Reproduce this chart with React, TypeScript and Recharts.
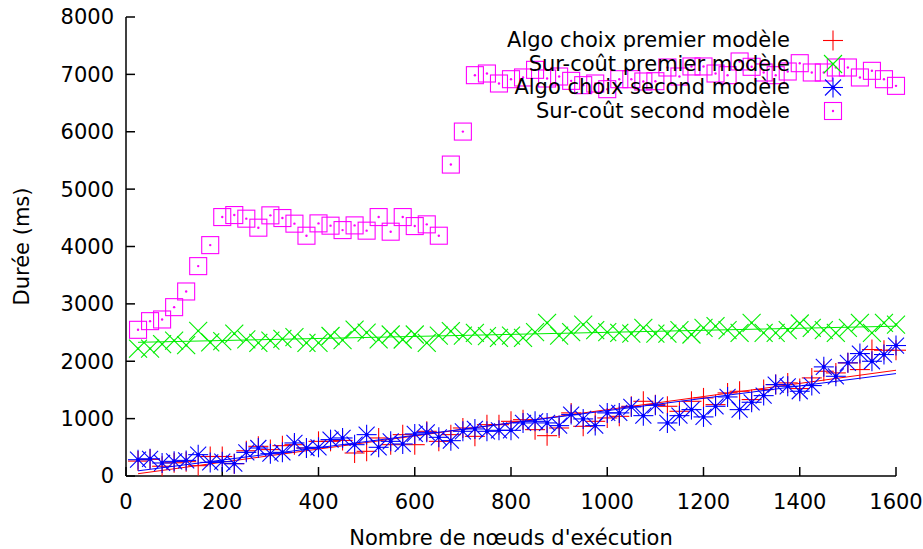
import { Scatter, ScatterChart, XAxis, YAxis } from 'recharts';

const NODES = [
  25, 50, 75, 100, 125, 150, 175, 200, 225, 250, 275, 300, 325, 350, 375, 400,
  425, 450, 475, 500, 525, 550, 575, 600, 625, 650, 675, 700, 725, 750, 775, 800,
  825, 850, 875, 900, 925, 950, 975, 1000, 1025, 1050, 1075, 1100, 1125, 1150, 1175, 1200,
  1225, 1250, 1275, 1300, 1325, 1350, 1375, 1400, 1425, 1450, 1475, 1500, 1525, 1550, 1575, 1600,
];

// Algo choix premier modèle
const ALGO_1 = [
  260, 290, 170, 230, 250, 180, 340, 340, 215, 440, 517, 460, 529, 546, 488, 604,
  604, 620, 401, 430, 663, 546, 721, 546, 779, 604, 721, 837, 691, 895, 895, 953,
  982, 808, 703, 837, 1100, 866, 953, 1012, 1040, 1215, 1302, 1244, 1215, 1128, 1302, 1361,
  1244, 1448, 1477, 1332, 1506, 1593, 1623, 1524, 1710, 1826, 1797, 1972, 1855, 2204, 2192, 2192,
];

// Sur-coût premier modèle
const SURCOUT_1 = [
  2220, 2220, 2300, 2360, 2280, 2530, 2330, 2350, 2480, 2380, 2320, 2360, 2390, 2420, 2320, 2320,
  2440, 2370, 2550, 2500, 2380, 2466, 2379, 2466, 2321, 2448, 2524, 2448, 2495, 2437, 2408, 2448,
  2408, 2506, 2670, 2448, 2506, 2640, 2541, 2506, 2495, 2483, 2582, 2483, 2483, 2541, 2466, 2582,
  2611, 2541, 2495, 2670, 2495, 2495, 2541, 2658, 2582, 2541, 2495, 2582, 2670, 2495, 2670, 2640,
];

// Algo choix second modèle
const ALGO_2 = [
  284, 300, 227, 255, 272, 372, 237, 250, 215, 412, 488, 389, 412, 576, 488, 500,
  634, 663, 546, 721, 500, 604, 558, 733, 761, 674, 616, 779, 820, 779, 796, 796,
  925, 953, 925, 878, 1070, 995, 878, 1100, 1100, 1204, 1052, 1232, 925, 1052, 1157, 1030,
  1215, 1378, 1157, 1285, 1401, 1593, 1564, 1477, 1576, 1902, 1738, 1972, 2134, 2000, 2117, 2274,
];

// Sur-coût second modèle
const SURCOUT_2 = [
  2548, 2699, 2728, 2943, 3216, 3658, 4024, 4513, 4548, 4485, 4328, 4543, 4496, 4398, 4188, 4403,
  4363, 4286, 4368, 4276, 4513, 4258, 4513, 4356, 4386, 4188, 5428, 6003, 6986, 7015, 6841, 6916,
  6946, 7079, 6928, 6963, 6887, 6812, 6841, 6742, 6916, 6916, 6876, 6881, 7120, 6963, 7138, 7138,
  7015, 6986, 7225, 7132, 7033, 6986, 7050, 7195, 7033, 7033, 7120, 7120, 6946, 7062, 6916, 6800,
];

// linear fits (end points)
const FIT_ALGO_1 = [[25, 40], [1600, 1843]];
const FIT_SURCOUT_1 = [[25, 2330], [1600, 2611]];
const FIT_ALGO_2 = [[25, 90], [1600, 1785]];

const X_TICKS = [0, 200, 400, 600, 800, 1000, 1200, 1400, 1600];
const Y_TICKS = [0, 1000, 2000, 3000, 4000, 5000, 6000, 7000, 8000];

const LEGEND = [
  'Algo choix premier modèle',
  'Sur-coût premier modèle',
  'Algo choix second modèle',
  'Sur-coût second modèle',
];

const RED = '#ff0000';
const GREEN = '#00ee00';
const BLUE = '#0000ff';
const MAGENTA = '#ff00ff';
const FONT = '"DejaVu Sans", sans-serif';
const FS = 21;

const toPoints = (ys: number[]) => NODES.map((x, i) => ({ x, y: ys[i] }));
const fitPoints = (f: number[][]) => f.map(([x, y]) => ({ x, y }));

function Plus({ cx, cy, color = RED }: any) {
  return (
    <g stroke={color} strokeWidth={1.1}>
      <line x1={cx - 10} y1={cy} x2={cx + 10} y2={cy} />
      <line x1={cx} y1={cy - 10} x2={cx} y2={cy + 10} />
    </g>
  );
}

function Cross({ cx, cy, color = GREEN }: any) {
  return (
    <g stroke={color} strokeWidth={1.1}>
      <line x1={cx - 9} y1={cy - 9} x2={cx + 9} y2={cy + 9} />
      <line x1={cx - 9} y1={cy + 9} x2={cx + 9} y2={cy - 9} />
      <circle cx={cx} cy={cy} r={1.2} fill={color} stroke="none" />
    </g>
  );
}

function Star({ cx, cy, color = BLUE }: any) {
  return (
    <g stroke={color} strokeWidth={1.1}>
      <line x1={cx - 10} y1={cy} x2={cx + 10} y2={cy} />
      <line x1={cx} y1={cy - 10} x2={cx} y2={cy + 10} />
      <line x1={cx - 8} y1={cy - 8} x2={cx + 8} y2={cy + 8} />
      <line x1={cx - 8} y1={cy + 8} x2={cx + 8} y2={cy - 8} />
      <circle cx={cx} cy={cy} r={2} fill={color} stroke="none" />
    </g>
  );
}

function Square({ cx, cy, color = MAGENTA }: any) {
  return (
    <g>
      <rect x={cx - 8.5} y={cy - 8.5} width={17} height={17} fill="none" stroke={color} strokeWidth={1.1} />
      <circle cx={cx} cy={cy} r={1.2} fill={color} />
    </g>
  );
}

const noMark = () => <g />;

const tickStyle = { fontFamily: FONT, fontSize: FS, fill: '#000' };

export default function App() {
  const legendMarks = [Plus, Cross, Star, Square];
  return (
    <div style={{ position: 'absolute', left: 0, top: 0, width: 923, height: 549, background: '#fff' }}>
      <ScatterChart width={923} height={549} margin={{ top: 17, right: 27, bottom: 0, left: 0 }}>
        <XAxis
          type="number"
          dataKey="x"
          domain={[0, 1600]}
          ticks={X_TICKS}
          height={73}
          tickSize={-9}
          tickMargin={27}
          tick={tickStyle}
          stroke="#000"
          strokeWidth={1.5}
          label={{
            content: ({ viewBox }: any) => (
              <text
                x={viewBox.x + viewBox.width / 2}
                y={viewBox.y + 69}
                textAnchor="middle"
                fontFamily={FONT}
                fontSize={FS}
                fill="#000"
              >
                Nombre de nœuds d'exécution
              </text>
            ),
          }}
        />
        <XAxis
          xAxisId="top"
          orientation="top"
          type="number"
          domain={[0, 1600]}
          ticks={X_TICKS}
          height={0}
          mirror
          tickSize={9}
          tickFormatter={() => ''}
          stroke="#000"
          strokeWidth={1.5}
        />
        <YAxis
          type="number"
          dataKey="y"
          domain={[0, 8000]}
          ticks={Y_TICKS}
          width={126}
          tickSize={-9}
          tickMargin={21}
          tick={tickStyle}
          stroke="#000"
          strokeWidth={1.5}
          label={{
            content: ({ viewBox }: any) => {
              const x = viewBox.x + 22;
              const y = viewBox.y + viewBox.height / 2;
              return (
                <text
                  x={x}
                  y={y}
                  transform={`rotate(-90 ${x} ${y})`}
                  textAnchor="middle"
                  dominantBaseline="central"
                  fontFamily={FONT}
                  fontSize={FS}
                  fill="#000"
                >
                  Durée (ms)
                </text>
              );
            },
          }}
        />
        <YAxis
          yAxisId="right"
          orientation="right"
          type="number"
          domain={[0, 8000]}
          ticks={Y_TICKS}
          width={0}
          mirror
          tickSize={9}
          tickFormatter={() => ''}
          stroke="#000"
          strokeWidth={1.5}
        />
        <Scatter data={toPoints(ALGO_1)} shape={(p: any) => <Plus {...p} />} isAnimationActive={false} />
        <Scatter
          data={fitPoints(FIT_ALGO_1)}
          shape={noMark}
          line={{ stroke: RED, strokeWidth: 1 }}
          isAnimationActive={false}
        />
        <Scatter data={toPoints(SURCOUT_1)} shape={(p: any) => <Cross {...p} />} isAnimationActive={false} />
        <Scatter
          data={fitPoints(FIT_SURCOUT_1)}
          shape={noMark}
          line={{ stroke: GREEN, strokeWidth: 1 }}
          isAnimationActive={false}
        />
        <Scatter data={toPoints(ALGO_2)} shape={(p: any) => <Star {...p} />} isAnimationActive={false} />
        <Scatter
          data={fitPoints(FIT_ALGO_2)}
          shape={noMark}
          line={{ stroke: BLUE, strokeWidth: 1 }}
          isAnimationActive={false}
        />
        <Scatter data={toPoints(SURCOUT_2)} shape={(p: any) => <Square {...p} />} isAnimationActive={false} />
      </ScatterChart>

      {/* key, top right like gnuplot */}
      <svg width={923} height={549} style={{ position: 'absolute', left: 0, top: 0, pointerEvents: 'none' }}>
        {LEGEND.map((name, i) => {
          const Mark = legendMarks[i];
          const base = 47 + i * 23.5;
          return (
            <g key={name}>
              <text x={790} y={base} textAnchor="end" fontFamily={FONT} fontSize={FS} fill="#000">
                {name}
              </text>
              <Mark cx={833} cy={base - 6.5} />
            </g>
          );
        })}
      </svg>
    </div>
  );
}
